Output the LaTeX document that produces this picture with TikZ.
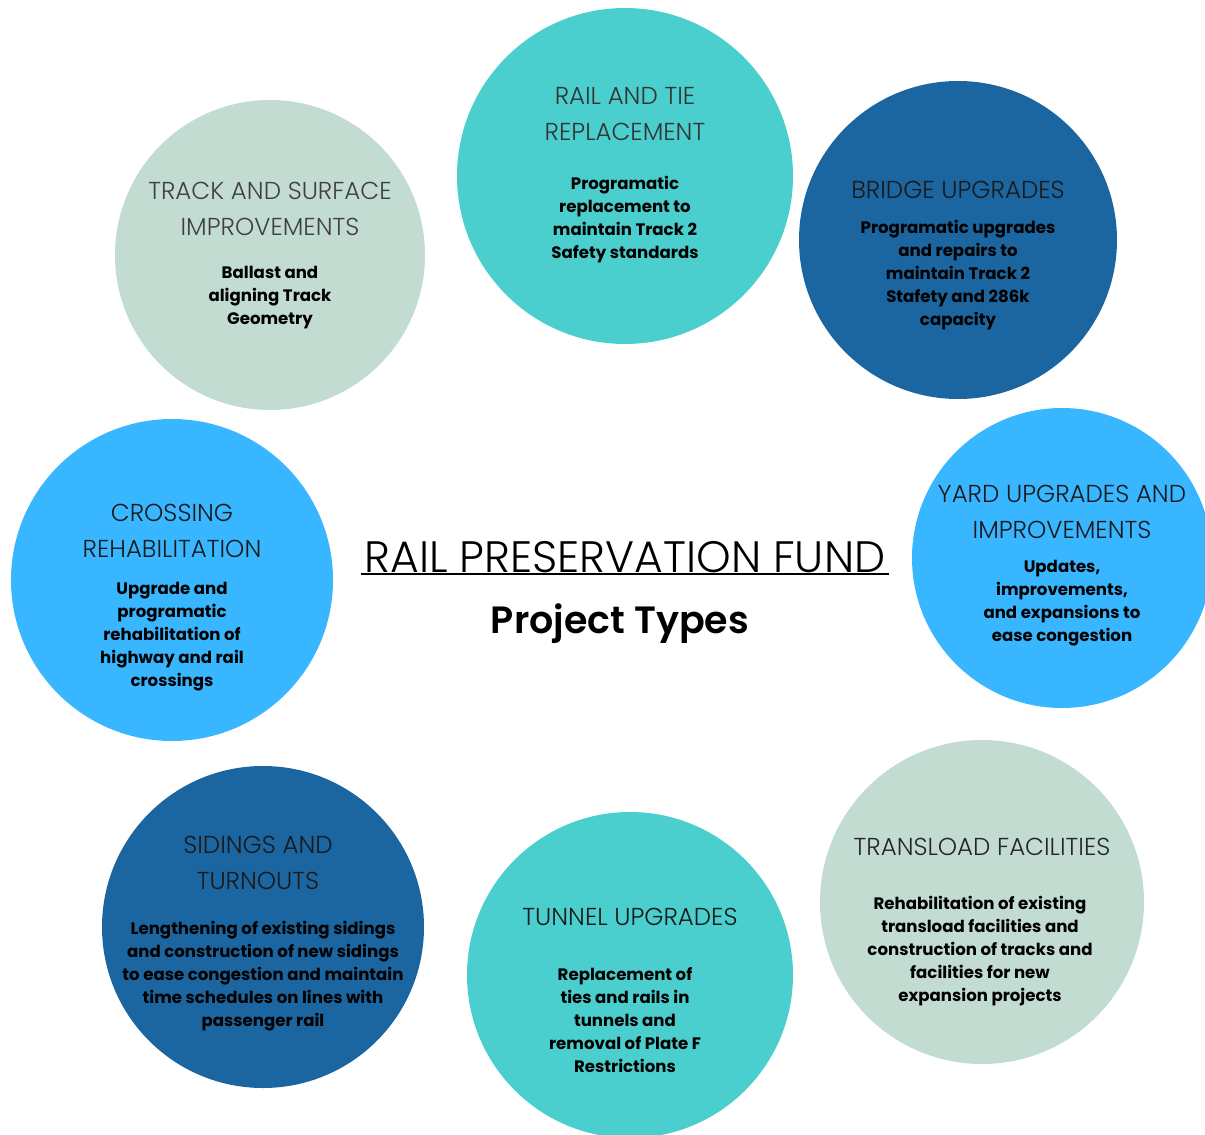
\documentclass[tikz,border=0pt]{standalone}
\usepackage{fontspec}
\setmainfont{Poppins}
\newfontfamily\headfont{Poppins Light}
\newfontfamily\bodyfont{Poppins Bold}
\newfontfamily\subfont{Poppins SemiBold}
\definecolor{sage}{HTML}{C3DCD1}
\definecolor{teal}{HTML}{4BCECE}
\definecolor{dblue}{HTML}{1B66A0}
\definecolor{bblue}{HTML}{38B6FF}
\begin{document}
\begin{tikzpicture}[x=1pt,y=-1pt,
  disc/.style={circle,inner sep=0pt,minimum size=#1},
  head/.style={align=center,font=\headfont\fontsize{24.5}{36}\selectfont,text=#1},
  head/.default={black!75},
  body/.style={align=center,font=\bodyfont\fontsize{16.6}{23}\selectfont,text=black},
  title/.style={font=\headfont\fontsize{44}{50}\selectfont},
  subtitle/.style={font=\subfont\fontsize{38}{44}\selectfont}]
\useasboundingbox (0,0) rectangle (1205,1135);
\clip (0,0) rectangle (1205,1135);
% circles
\node[disc=310pt,fill=sage] (c1) at (270,255) {};
\node[disc=336pt,fill=teal] (c2) at (625,176) {};
\node[disc=318pt,fill=dblue] (c3) at (958,240) {};
\node[disc=300pt,fill=bblue] (c4) at (1062,558) {};
\node[disc=322pt,fill=bblue] (c5) at (172,580) {};
\node[disc=322pt,fill=dblue] (c6) at (263,927) {};
\node[disc=326pt,fill=teal] (c7) at (630,975) {};
\node[disc=324pt,fill=sage] (c8) at (982,902) {};
% texts
\node[head] (h1) at (270,209) {TRACK AND SURFACE\\IMPROVEMENTS};
\node[body] (b1) at (270,298) {Ballast and\\aligning Track\\Geometry};
\node[head=black!80] (h2) at (625,113.5) {RAIL AND TIE\\REPLACEMENT};
\node[body] (b2) at (625,219.5) {Programatic\\replacement to\\maintain Track 2\\Safety standards};
\node[head=black!90] (h3) at (958,190) {BRIDGE UPGRADES};
\node[body] (b3) at (958,275.5) {Programatic upgrades\\and repairs to\\maintain Track 2\\Stafety and 286k\\capacity};
\node[head=black!90] (h4) at (1062,512) {YARD UPGRADES AND\\IMPROVEMENTS};
\node[body] (b4) at (1062,603.5) {Updates,\\improvements,\\and expansions to\\ease congestion};
\node[head=black!90] (h5) at (172,530.5) {CROSSING\\REHABILITATION};
\node[body] (b5) at (172,636.5) {Upgrade and\\programatic\\rehabilitation of\\highway and rail\\crossings};
\node[head=black!90] (h6) at (258,862.5) {SIDINGS AND\\TURNOUTS};
\node[body] (b6) at (263,976) {Lengthening of existing sidings\\and construction of new sidings\\to ease congestion and maintain\\time schedules on lines with\\passenger rail};
\node[head=black!90] (h7) at (630,917) {TUNNEL UPGRADES};
\node[body] (b7) at (625,1020) {Replacement of\\ties and rails in\\tunnels and\\removal of Plate F\\Restrictions};
\node[head=black!85] (h8) at (982,847) {TRANSLOAD FACILITIES};
\node[body] (b8) at (980,951.5) {Rehabilitation of existing\\transload facilities and\\construction of tracks and\\facilities for new\\expansion projects};
% title
\node[title] (t1) at (625,557) {RAIL PRESERVATION FUND};
\draw[line width=2.4pt] (t1.south west) ++(0,-2) coordinate (u1) -- (t1.south east |- u1) coordinate (u2);
\node[subtitle] (t2) at (620,624) {Project Types};
\end{tikzpicture}
\end{document}
